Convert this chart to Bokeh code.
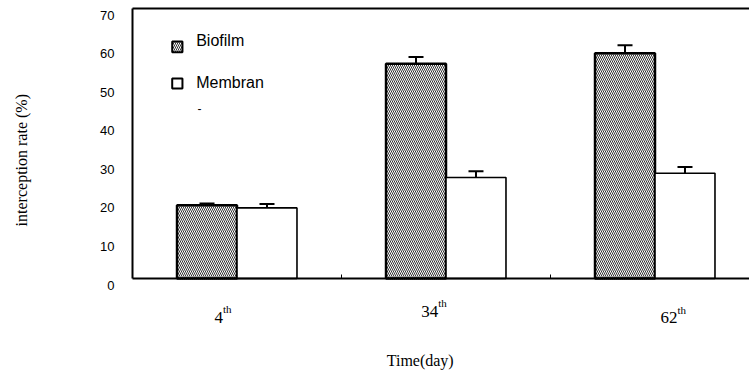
import numpy as np
from bokeh.plotting import figure
from bokeh.models import (Range1d, FixedTicker, Whisker, TeeHead, ColumnDataSource,
                          Label, BoxAnnotation, LinearAxis)
from bokeh.embed import file_html
from bokeh.resources import INLINE

# ---- data ----
days = ["4", "34", "62"]
day_suffix = "th"
biofilm = [19.0, 55.7, 58.4]
biofilm_err = [0.45, 1.7, 2.1]
membrane = [18.3, 26.2, 27.3]
membrane_err = [1.0, 1.6, 1.6]
y_ticks = [0, 10, 20, 30, 40, 50, 60, 70]
series_names = ["Biofilm", "Membran"]
x_title = "Time(day)"
y_title = "interception rate (%)"

# ---- styling / layout ----
W, H = 749, 371
X0_PX, Y0_PX = 132, 278          # pixel position of the data origin
PX_X, PX_Y = 209.0, 3.857        # pixels per unit
BAR_W = 0.287
SANS = "Liberation Sans"
SERIF = "Liberation Serif"
label_dx = [-22.5, -24.8, 5.5]    # px offsets of day labels from group centre
label_dy = [-38.5, -32.7, -39.3]  # px offsets from the zero line
x_end = (W - X0_PX) / PX_X
x_start = -X0_PX / PX_X
y_end = Y0_PX / PX_Y
y_start = -(H - Y0_PX) / PX_Y
lab_shift = 6.5 / PX_Y            # tick labels sit a little below their gridline

p = figure(width=W, height=H, output_backend="svg", toolbar_location=None,
           x_range=Range1d(x_start, x_end), y_range=Range1d(y_start, y_end),
           x_axis_location=None, y_axis_location=None,
           min_border_left=0, min_border_right=0, min_border_top=0, min_border_bottom=0)
p.outline_line_color = None
p.xgrid.visible = False
p.ygrid.visible = False
p.background_fill_color = "white"
p.border_fill_color = "white"
p.extra_y_ranges = {"ylab": Range1d(y_start + lab_shift, y_end + lab_shift)}

# y axis line
yax = LinearAxis(fixed_location=0, bounds=(0, y_ticks[-1]), ticker=FixedTicker(ticks=[]),
                 axis_line_width=2, axis_line_color="black",
                 major_tick_line_color=None, minor_tick_line_color=None)
p.add_layout(yax, "left")
# y tick labels (slightly shifted downward like the original)
ylab = LinearAxis(y_range_name="ylab", fixed_location=0, ticker=FixedTicker(ticks=y_ticks),
                  axis_line_color=None, major_tick_line_color=None, minor_tick_line_color=None,
                  major_label_standoff=12, major_label_text_font=SANS,
                  major_label_text_font_size="13px", major_label_text_color="black")
p.add_layout(ylab, "left")
# x axis line with small inner ticks between groups
xax = LinearAxis(fixed_location=0, bounds=(0, x_end),
                 ticker=FixedTicker(ticks=[], minor_ticks=[1, 2]),
                 axis_line_width=2, axis_line_color="black",
                 major_tick_line_color=None, minor_tick_in=4, minor_tick_out=0,
                 minor_tick_line_width=1, minor_tick_line_color="black")
p.add_layout(xax, "below")
# top frame line
tax = LinearAxis(fixed_location=y_ticks[-1], bounds=(0, x_end), ticker=FixedTicker(ticks=[]),
                 axis_line_width=2, axis_line_color="black",
                 major_tick_line_color=None, minor_tick_line_color=None)
p.add_layout(tax, "above")

centers = np.arange(len(days)) + 0.5
xb = centers - BAR_W / 2
xm = centers + BAR_W / 2

HATCH = dict(hatch_pattern="\\", hatch_scale=4, hatch_weight=0.8, hatch_color="black")

p.vbar(x=xb, top=biofilm, bottom=0, width=BAR_W, fill_color="white",
       line_color="black", line_width=2.5, **HATCH)
p.vbar(x=xm, top=membrane, bottom=0, width=BAR_W, fill_color="white",
       line_color="black", line_width=1.6)

for xs, vals, errs in ((xb, biofilm, biofilm_err), (xm, membrane, membrane_err)):
    src = ColumnDataSource(dict(x=xs, lower=vals, upper=np.array(vals) + np.array(errs)))
    p.add_layout(Whisker(source=src, base="x", lower="lower", upper="upper",
                         lower_head=None,
                         upper_head=TeeHead(size=15, line_width=2, line_color="black"),
                         line_width=2, line_color="black"))

# x tick labels with superscript
for i, d in enumerate(days):
    p.add_layout(Label(x=centers[i], y=0, x_offset=label_dx[i], y_offset=label_dy[i],
                       text=d, text_align="left", text_baseline="alphabetic",
                       text_font=SERIF, text_font_size="17px", text_color="black"))
    p.add_layout(Label(x=centers[i], y=0, x_offset=label_dx[i] + 8.5 * len(d),
                       y_offset=label_dy[i] + 8, text=day_suffix, text_align="left",
                       text_baseline="alphabetic", text_font=SERIF, text_font_size="11px",
                       text_color="black"))

# axis titles
p.add_layout(Label(x=0, y=0, x_offset=287.7, y_offset=-82, text=x_title,
                   text_align="center", text_baseline="alphabetic",
                   text_font=SERIF, text_font_size="16px", text_color="black"))
p.add_layout(Label(x=0, y=0, x_offset=-111.5, y_offset=118.3, text=y_title, angle=np.pi / 2,
                   text_align="center", text_baseline="middle",
                   text_font=SERIF, text_font_size="16px", text_color="black"))

# legend
p.add_layout(BoxAnnotation(left=0.19, right=0.239, bottom=58.67, top=61.45,
                           fill_color="white", fill_alpha=1, line_color="black", line_width=2,
                           line_alpha=1, editable=False, **HATCH))
p.add_layout(BoxAnnotation(left=0.19, right=0.239, bottom=49.26, top=51.85,
                           fill_color="white", fill_alpha=1, line_color="black", line_width=2,
                           line_alpha=1, editable=False))
p.add_layout(Label(x=0, y=0, x_offset=63.7, y_offset=238.5, text=series_names[0],
                   text_baseline="middle", text_font=SANS, text_font_size="16px",
                   text_color="black"))
p.add_layout(Label(x=0, y=0, x_offset=63.7, y_offset=195.7, text=series_names[1],
                   text_baseline="middle", text_font=SANS, text_font_size="16px",
                   text_color="black"))
p.add_layout(Label(x=0, y=0, x_offset=65, y_offset=169.7, text="-",
                   text_baseline="middle", text_font=SANS, text_font_size="12px",
                   text_color="black"))

open("out.html", "w").write(file_html(p, INLINE))
